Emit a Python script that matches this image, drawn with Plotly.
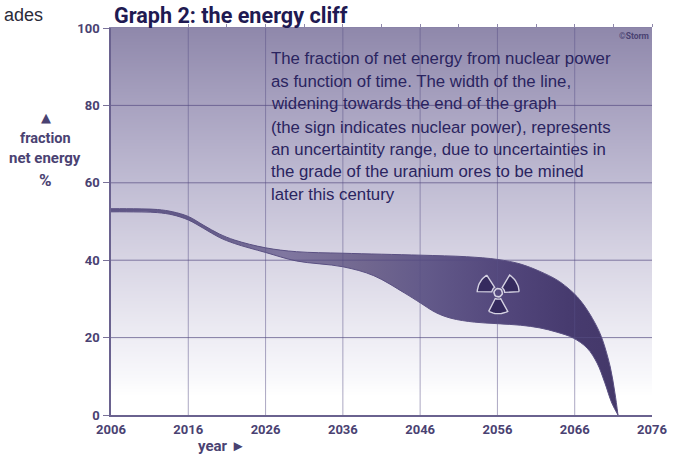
import math
import plotly.graph_objects as go

years_top = [2006, 2008, 2012, 2014, 2016, 2018, 2020, 2022, 2026, 2030, 2036, 2046, 2052, 2056, 2059, 2061.5, 2063.7, 2065, 2066.3, 2067.6, 2068.9, 2069.6, 2070.6, 2071.2, 2071.6]
upper = [53.3, 53.3, 53.1, 52.5, 51.3, 49.0, 46.8, 45.2, 43.2, 42.2, 41.8, 41.3, 40.9, 40.2, 39, 37.1, 34.9, 33.0, 30.6, 27.2, 22.7, 19.4, 12.4, 5.7, 0]
years_low = [2006, 2008, 2012, 2014, 2016, 2018, 2020, 2022, 2026, 2030, 2036, 2040, 2044, 2046, 2048, 2050, 2053, 2056, 2059, 2061.5, 2063.7, 2065.8, 2067.6, 2068.9, 2069.9, 2070.8, 2071.6]
lower = [52.5, 52.5, 52.3, 51.7, 50.4, 48.2, 45.9, 44.3, 42, 39.8, 38.3, 36, 31.5, 29, 26.5, 25, 24, 23.6, 23.2, 22.5, 21.4, 19.9, 17.3, 13.4, 8.3, 3.1, 0]

bg_levels = [0, 5, 10, 20, 40, 60, 80, 100]
bg_colors = ["#ffffff", "#ffffff", "#f8f8fb", "#eeedf4", "#d8d5e4", "#c0bcd3", "#a8a2c0", "#8f88ab"]

x_ticks = [2006, 2016, 2026, 2036, 2046, 2056, 2066, 2076]
x_minor = [2011, 2016, 2021, 2026, 2031, 2036, 2041, 2046, 2051, 2056, 2061, 2066, 2071, 2076]
y_ticks = [0, 20, 40, 60, 80, 100]

note_lines = [
    "The fraction of net energy from nuclear power",
    "as function of time. The width of the line,",
    "widening towards the end of the graph",
    "(the sign indicates nuclear power), represents",
    "an uncertaintity range, due to uncertainties in",
    "the grade of the uranium ores to be mined",
    "later this century",
]
note_values = [92.2, 86.3, 80.4, 74.4, 68.5, 62.8, 56.9]

INK = "#4a4272"
DARK = "#1f1a52"
W, H = 678, 456
L, R, T, B = 111, 26, 28, 41
PX_X = (W - L - R) / (x_ticks[-1] - x_ticks[0])
PX_Y = (H - T - B) / 100

fig = go.Figure()

scale = [[v / 100, c] for v, c in zip(bg_levels, bg_colors)]
fig.add_trace(go.Heatmap(
    x=[x_ticks[0], x_ticks[-1]], y=bg_levels, z=[[v, v] for v in bg_levels],
    zmin=0, zmax=100, colorscale=scale, showscale=False, zsmooth="best", hoverinfo="skip",
))

edge = dict(color="#5a5082", width=1, shape="spline", smoothing=1.0)
fig.add_trace(go.Scatter(x=years_low, y=lower, mode="lines", line=edge, hoverinfo="skip", showlegend=False))
fig.add_trace(go.Scatter(
    x=years_top, y=upper, mode="lines", line=edge, fill="tonexty",
    fillgradient=dict(type="horizontal", colorscale=[
        [0, "#5f5686"], [0.2, "#655c8a"], [0.34, "#8077a0"], [0.5, "#71678f"], [0.62, "#635a8a"],
        [0.78, "#52467b"], [0.9, "#473b6f"], [1, "#443869"]]),
    hoverinfo="skip", showlegend=False,
))

# grid over the background and band
gx, gy = [], []
for v in x_ticks[1:-1]:
    gx += [v, v, None]
    gy += [0, 100, None]
fig.add_trace(go.Scatter(x=gx, y=gy, mode="lines", line=dict(color="rgba(90,82,135,0.5)", width=1), hoverinfo="skip", showlegend=False))
hx, hy = [], []
for v in y_ticks[1:-1]:
    hx += [x_ticks[0], x_ticks[-1], None]
    hy += [v, v, None]
fig.add_trace(go.Scatter(x=hx, y=hy, mode="lines", line=dict(color="rgba(85,76,130,0.7)", width=1), hoverinfo="skip", showlegend=False))

# radiation trefoil, built around its centre in pixel units
cx, cy = 2056.1, 31.6
def pt(r, deg):
    return cx + r * math.cos(math.radians(deg)) / PX_X, cy + r * math.sin(math.radians(deg)) / PX_Y
for mid in (150, 30, 270):
    angles = [mid - 27 + i * 4.5 for i in range(13)]
    outer = [pt(21, a) for a in angles]
    inner = [pt(6.5, a) for a in reversed(angles)]
    ring = outer + inner + outer[:1]
    fig.add_trace(go.Scatter(
        x=[p[0] for p in ring], y=[p[1] for p in ring], mode="lines", fill="toself",
        fillcolor="#352a5e", line=dict(color="#d5d2e2", width=1.4), hoverinfo="skip", showlegend=False,
    ))
circle = [pt(4.2, a) for a in range(0, 361, 20)]
fig.add_trace(go.Scatter(
    x=[p[0] for p in circle], y=[p[1] for p in circle], mode="lines",
    line=dict(color="#d5d2e2", width=1.6), hoverinfo="skip", showlegend=False,
))

# carries the top axis
fig.add_trace(go.Scatter(x=[x_ticks[0], x_ticks[-1]], y=[0, 100], mode="markers", marker=dict(opacity=0), xaxis="x2", hoverinfo="skip", showlegend=False))

label_font = dict(family="Roboto", size=13, color=INK, weight="bold")

fig.update_layout(
    width=W, height=H, margin=dict(l=L, r=R, t=T, b=B, pad=0),
    paper_bgcolor="white", plot_bgcolor="white", showlegend=False,
    xaxis=dict(range=[x_ticks[0], x_ticks[-1]], tickvals=x_ticks, ticks="", showgrid=False, zeroline=False,
               showline=True, linecolor="#6a628f", linewidth=1.5, tickfont=label_font, ticklabelstandoff=2),
    xaxis2=dict(range=[x_ticks[0], x_ticks[-1]], overlaying="x", side="top", tickvals=x_minor, ticks="outside",
                ticklen=3, tickcolor="#8f88ab", showticklabels=False, showgrid=False, zeroline=False,
                showline=True, linecolor="#8a83a8", linewidth=1),
    yaxis=dict(range=[0, 100], tickvals=y_ticks, ticks="outside", ticklen=6, tickcolor="#7a7299", showgrid=False,
               zeroline=False, showline=True, linecolor="#6a628f", linewidth=1.5, mirror=False,
               tickfont=label_font, ticklabelstandoff=1),
    font=dict(family="Liberation Sans", color=DARK),
)

def note(text, x, y, xref="paper", yref="paper", xanchor="left", yanchor="middle", **font):
    fig.add_annotation(text=text, x=x, y=y, xref=xref, yref=yref, xanchor=xanchor, yanchor=yanchor,
                       showarrow=False, align="left", font=font)

def fx(px):
    return (px - L) / (W - L - R)
def fy(py):
    return (H - B - py) / (H - T - B)

for line, value in zip(note_lines, note_values):
    note(line, 2026.4, value, xref="x", yref="y", size=16.8, family="Liberation Sans", color="#2a2460")

note("Graph 2: the energy cliff", fx(112), fy(15), size=21.6, family="Roboto", color=DARK, weight="bold")
note("ades", fx(45), fy(15), xanchor="right", size=18, family="Liberation Sans", color="#2b2b3a")
note("©Storm", fx(651), fy(36), xanchor="right", size=8.5, family="Roboto", color=INK, weight="bold")
note("▲", fx(46), fy(118), xanchor="center", size=13, family="DejaVu Sans", color=INK)
note("fraction", fx(45), fy(138), xanchor="center", size=14.5, family="Roboto", color=INK, weight="bold")
note("net energy", fx(45), fy(158), xanchor="center", size=15, family="Roboto", color=INK, weight="bold")
note("%", fx(45), fy(180), xanchor="center", size=17, family="Roboto", color=INK, weight="bold")
note("year ►", fx(222), fy(446), xanchor="center", size=15, family="Roboto", color=INK, weight="bold")

fig.write_html("out.html", config=dict(displayModeBar=False), post_script="document.body.style.margin='0';")
